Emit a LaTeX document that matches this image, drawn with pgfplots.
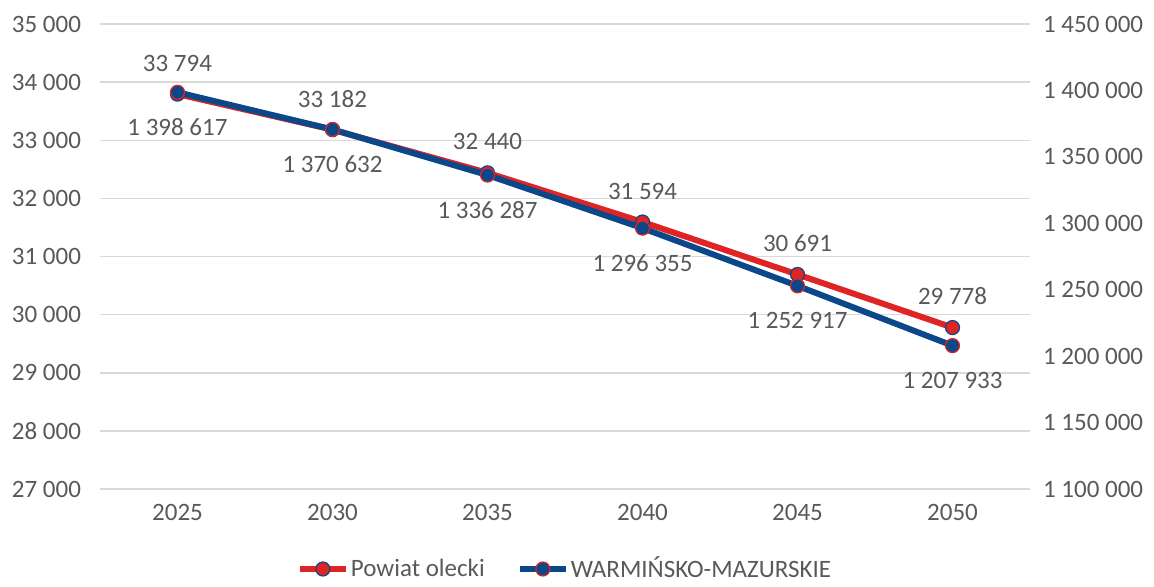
\documentclass[border=0pt]{standalone}
\usepackage{pgfplots}
\pgfplotsset{compat=1.18}
\usepackage{fontspec}
\setmainfont{Carlito}

\definecolor{redline}{RGB}{222,36,36}
\definecolor{blueline}{RGB}{10,72,138}
\definecolor{txt}{RGB}{89,89,89}
\definecolor{gridc}{RGB}{217,217,217}

\pgfplotsset{
  base/.style={
    scale only axis, width=465pt, height=232.5pt,
    xmin=-0.5, xmax=5.5,
    xtick={0,...,5}, xticklabels={2025,2030,2035,2040,2045,2050},
    scaled y ticks=false,
    font=\fontsize{12.5}{14}\selectfont,
    tick style={draw=none},
    ticklabel style={text=txt},
    axis line style={draw=none},
    clip=false,
    point meta=explicit symbolic,
    legend image code/.code={
      \draw[mark repeat=2,mark phase=2]
        plot coordinates {(0pt,0pt) (11.5pt,0pt) (23pt,0pt)};},
  },
  redser/.style={redline, line width=3pt, mark=*, mark size=3.5pt,
    mark options={fill=redline, draw=blueline, line width=0.6pt}},
  blueser/.style={blueline, line width=3pt, mark=*, mark size=3.5pt,
    mark options={fill=blueline, draw=redline, line width=0.6pt}},
}

\begin{document}
\begin{tikzpicture}
  % left axis: powiat
  \begin{axis}[
    base,
    ymin=27000, ymax=35000,
    ytick={27000,28000,...,35000},
    yticklabels={27 000,28 000,29 000,30 000,31 000,32 000,33 000,34 000,35 000},
    yticklabel style={xshift=-6pt},
    xticklabel style={yshift=-4pt},
    ymajorgrids, grid style={gridc, line width=0.75pt},
    nodes near coords,
    every node near coord/.append style={text=txt, anchor=center, yshift=15.5pt, font=\fontsize{12.5}{14}\selectfont},
  ]
    \addplot[redser] coordinates {
      (0,33794) [33 794]
      (1,33182) [33 182]
      (2,32440) [32 440]
      (3,31594) [31 594]
      (4,30691) [30 691]
      (5,29778) [29 778]
    };
  \end{axis}
  % right axis: wojewodztwo
  \begin{axis}[
    base,
    axis x line=none,
    axis y line*=right,
    ymin=1100000, ymax=1450000,
    ytick={1100000,1150000,...,1450000},
    yticklabels={1 100 000,1 150 000,1 200 000,1 250 000,1 300 000,1 350 000,1 400 000,1 450 000},
    yticklabel style={xshift=3pt},
    nodes near coords,
    every node near coord/.append style={text=txt, anchor=center, yshift=-17.5pt, font=\fontsize{12.5}{14}\selectfont},
    legend style={at={(0.5,-0.172)}, anchor=center, draw=none, fill=none,
      legend columns=2, text=txt, font=\fontsize{12.5}{14}\selectfont,
      /tikz/every even column/.append style={column sep=15pt},
      inner sep=0pt, nodes={inner sep=1pt}},
  ]
    \addlegendimage{redser}
    \addlegendentry{Powiat olecki}
    \addplot[blueser] coordinates {
      (0,1398617) [1 398 617]
      (1,1370632) [1 370 632]
      (2,1336287) [1 336 287]
      (3,1296355) [1 296 355]
      (4,1252917) [1 252 917]
      (5,1207933) [1 207 933]
    };
    \addlegendentry{WARMIŃSKO-MAZURSKIE}
  \end{axis}
  \pgfresetboundingbox
  \path (-50pt,-48.5pt) rectangle (527pt,244.5pt);
\end{tikzpicture}
\end{document}
